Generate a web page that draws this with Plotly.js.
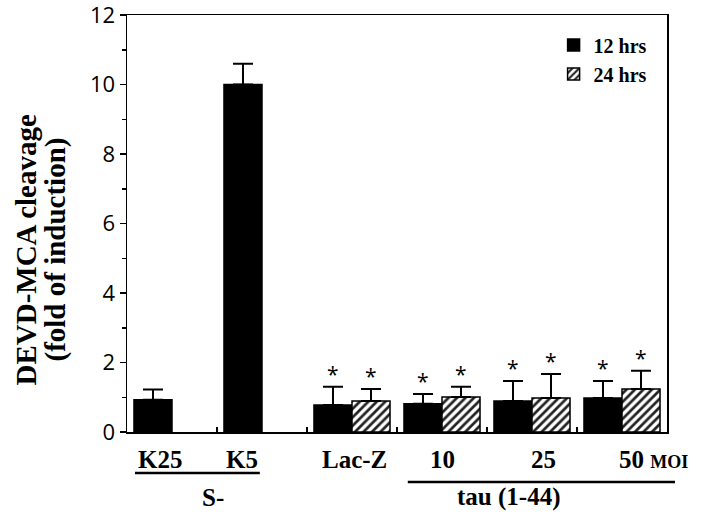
<!DOCTYPE html>
<html>
<head>
<meta charset="utf-8">
<script src="https://cdn.plot.ly/plotly-3.0.1.min.js"></script>
<style>html,body{margin:0;padding:0;background:#fff;}#chart{width:701px;height:515px;}</style>
</head>
<body>
<div id="chart"></div>
<script>
// ---- data ----
const categories = ["K25", "K5", "Lac-Z", "10", "25", "50"];
const tickLabels = ["K25", "K5", "Lac-Z", "10", "25", "50 <span style='font-size:18px'>MOI</span>"];
const series12Name = "12 hrs";
const series24Name = "24 hrs";
const values12 = [0.93, 10.0, 0.78, 0.81, 0.89, 0.98];
const errors12 = [0.29, 0.60, 0.52, 0.28, 0.58, 0.49];
const values24 = [null, null, 0.89, 1.01, 0.98, 1.24];
const errors24 = [null, null, 0.35, 0.29, 0.69, 0.52];
const signif12 = [false, false, true, true, true, true];
const signif24 = [false, false, true, true, true, true];
const groupLabels = ["S-", "tau (1-44)"];
const yTitleLines = ["DEVD-MCA cleavage", "(fold of induction)"];

// ---- style ----
const serif = "Liberation Serif, Times New Roman, serif";
const sans = "Open Sans, DejaVu Sans, sans-serif";
const labelShift = [-12, -20, 2, 0, 11, -5];
const labelAnchor = ["center", "center", "center", "center", "center", "left"];
const barHalf = 19;
const yTitleX = [-0.187, -0.1315];

const trace12 = {
  type: "bar", name: series12Name, x: categories, y: values12,
  marker: {color: "#000", line: {color: "#000", width: 1.5}},
  error_y: {type: "data", symmetric: false, array: errors12,
            arrayminus: errors12.map(() => 0), color: "#000", thickness: 2, width: 10}
};
const trace24 = {
  type: "bar", name: series24Name, x: categories, y: values24,
  marker: {color: "#fff", line: {color: "#000", width: 1.5},
           pattern: {shape: "/", fgcolor: "#222", bgcolor: "#fff", size: 6, solidity: 0.45}},
  error_y: {type: "data", symmetric: false, array: errors24,
            arrayminus: errors24.map(() => 0), color: "#000", thickness: 2, width: 10}
};

// annotations on a category axis take the category's serial index
const annotations = [];
categories.forEach((c, i) => {
  annotations.push({
    x: i, xref: "x", y: 0, yref: "paper", yanchor: "top",
    xanchor: labelAnchor[i], xshift: labelShift[i], yshift: -12,
    text: "<b>" + tickLabels[i] + "</b>", showarrow: false,
    font: {family: serif, size: 25, color: "#000"}
  });
  if (signif12[i] && values12[i] != null) {
    annotations.push({x: i, y: values12[i] + errors12[i], xref: "x", yref: "y",
      xshift: -barHalf, yanchor: "bottom", yshift: -3, text: "*", showarrow: false,
      font: {family: sans, size: 21, color: "#000"}});
  }
  if (signif24[i] && values24[i] != null) {
    annotations.push({x: i, y: values24[i] + errors24[i], xref: "x", yref: "y",
      xshift: barHalf, yanchor: "bottom", yshift: -3, text: "*", showarrow: false,
      font: {family: sans, size: 21, color: "#000"}});
  }
});
annotations.push({x: 0.135, xref: "paper", y: -0.156, yref: "paper", yanchor: "middle",
  text: "<b>" + groupLabels[0] + "</b>", showarrow: false, font: {family: serif, size: 25, color: "#000"}});
annotations.push({x: 0.806, xref: "paper", y: -0.156, yref: "paper", yanchor: "middle",
  text: "<b>" + groupLabels[1] + "</b>", showarrow: false, font: {family: serif, size: 25, color: "#000"}});
yTitleLines.forEach((t, k) => {
  annotations.push({x: yTitleX[k], xref: "paper", y: 0.4376, yref: "paper",
    xanchor: "center", yanchor: "middle", textangle: -90,
    text: "<b>" + t + "</b>", showarrow: false, font: {family: serif, size: 29, color: "#000"}});
});

const layout = {
  width: 701, height: 515,
  margin: {l: 127, r: 34, t: 15, b: 83},
  paper_bgcolor: "#fff", plot_bgcolor: "#fff",
  barmode: "group", bargap: 0.155, bargroupgap: 0,
  showlegend: true,
  legend: {x: 0.79, y: 0.975, xanchor: "left", yanchor: "top", bgcolor: "rgba(0,0,0,0)",
           font: {family: serif, size: 20, color: "#000", weight: "bold"}},
  xaxis: {
    type: "category", range: [-0.5, 5.5], showticklabels: false, tickson: "boundaries",
    ticks: "inside", ticklen: 5, tickcolor: "#000", tickwidth: 1.5,
    showline: true, linecolor: "#000", linewidth: 1.5, mirror: true,
    showgrid: false, zeroline: false, fixedrange: true
  },
  yaxis: {
    range: [0, 12], dtick: 2, ticks: "outside", ticklen: 6, tickwidth: 1.5, tickcolor: "#000",
    minor: {dtick: 1, ticks: "outside", ticklen: 4, tickwidth: 1.5, tickcolor: "#000", showgrid: false},
    showline: true, linecolor: "#000", linewidth: 1.5, mirror: true,
    showgrid: false, zeroline: false, ticklabeloverflow: "allow",
    tickfont: {family: sans, size: 22, color: "#000"}
  },
  shapes: [
    {type: "line", xref: "paper", yref: "paper", x0: 0.0148, x1: 0.246, y0: -0.0983, y1: -0.0983,
     line: {color: "#000", width: 2.5}},
    {type: "line", xref: "paper", yref: "paper", x0: 0.520, x1: 1.0148, y0: -0.12, y1: -0.12,
     line: {color: "#000", width: 2.5}}
  ],
  annotations: annotations
};

Plotly.newPlot("chart", [trace12, trace24], layout, {displayModeBar: false, staticPlot: true});
</script>
</body>
</html>
